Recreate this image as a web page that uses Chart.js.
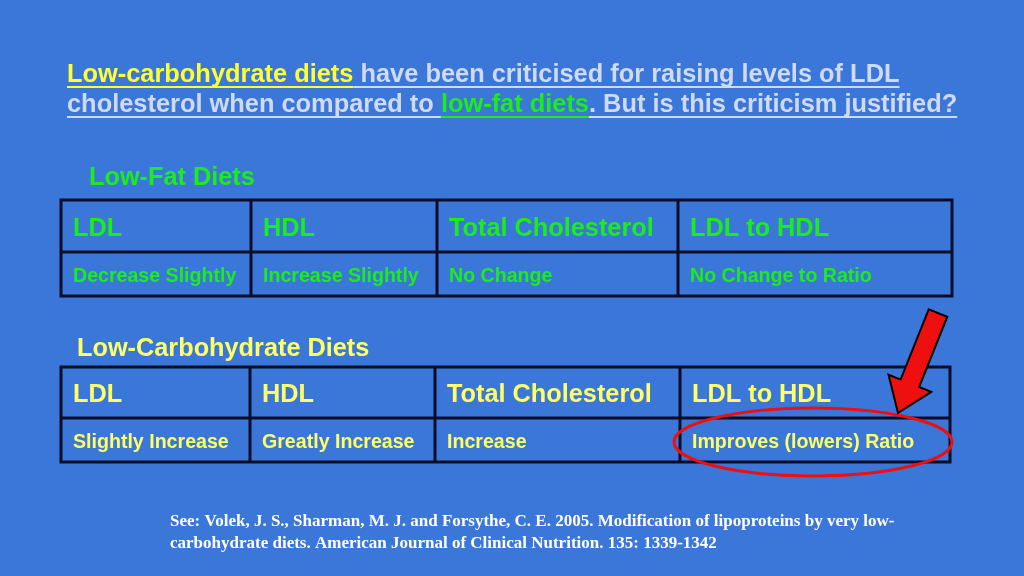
<!DOCTYPE html>
<html>
<head>
<meta charset="utf-8">
<script src="https://cdn.jsdelivr.net/npm/chart.js@4"></script>
<style>
  html, body { margin: 0; padding: 0; background: #3b77d9; }
  #slide { display: block; }
  .warm { position: absolute; left: -999px; top: 0; font-weight: bold; }
</style>
</head>
<body>
<span class="warm" style="font-family: 'Liberation Sans'">Aa</span>
<span class="warm" style="font-family: 'Liberation Serif'">Aa</span>
<canvas id="slide" width="1024" height="576"></canvas>
<script>
// /---------------Slide text and table data----------/
const titleParts = [
    { text: 'Low-carbohydrate diets', tone: 'yellow' },
    { text: ' have been criticised for raising levels of LDL', tone: 'pale' }
];
const titleParts2 = [
    { text: 'cholesterol when compared to ', tone: 'pale' },
    { text: 'low-fat diets', tone: 'green' },
    { text: '. But is this criticism justified?', tone: 'pale' }
];
const tableTitles = ['Low-Fat Diets', 'Low-Carbohydrate Diets'];
const columns = ['LDL', 'HDL', 'Total Cholesterol', 'LDL to HDL'];
const lowFatEffects = ['Decrease Slightly', 'Increase Slightly', 'No Change', 'No Change to Ratio'];
const lowCarbEffects = ['Slightly Increase', 'Greatly Increase', 'Increase', 'Improves (lowers) Ratio'];
const reference = [
    'See: Volek, J. S., Sharman, M. J. and Forsythe, C. E. 2005. Modification of lipoproteins by very low-',
    'carbohydrate diets. American Journal of Clinical Nutrition. 135: 1339-1342'
];

// /---------------Layout and colours----------/
const SANS = '"Liberation Sans", Arial, Helvetica, sans-serif';
const SERIF = '"Liberation Serif", "Times New Roman", serif';
const colours = {
    bg: '#3b77d9',
    pale: '#cfdaf6',
    yellow: '#ffff33',
    softYellow: '#ffff66',
    green: '#1cec1c',
    border: '#0b0c28',
    red: '#ee0f0f'
};
const tables = [
    { cols: [61, 251, 437, 678, 952], rows: [200, 252, 296], colour: colours.green, titleX: 89, titleY: 185, body: lowFatEffects },
    { cols: [61, 250, 435, 680, 950], rows: [367, 418, 462], colour: colours.softYellow, titleX: 77, titleY: 356, body: lowCarbEffects }
];

// /---------------Slide drawing plugin----------/
const slidePlugin = {
    id: 'slide',
    beforeDraw(chart) {
        const ctx = chart.ctx;
        ctx.save();
        ctx.fillStyle = colours.bg;
        ctx.fillRect(0, 0, chart.width, chart.height);
        ctx.restore();
    },
    afterDraw(chart) {
        const ctx = chart.ctx;
        const x = chart.scales.x;
        const y = chart.scales.y;
        const px = v => x.getPixelForValue(v);
        const py = v => y.getPixelForValue(v);

        ctx.save();
        ctx.textBaseline = 'alphabetic';

        // heading lines with underline
        function underlinedLine(parts, startX, baseY) {
            ctx.font = 'bold 25.4px ' + SANS;
            let cx = startX;
            parts.forEach(p => {
                const w = ctx.measureText(p.text).width;
                ctx.fillStyle = colours[p.tone];
                ctx.fillText(p.text, px(cx), py(baseY));
                ctx.fillRect(px(cx), py(baseY + 4), w, 2);
                cx += w;
            });
        }
        underlinedLine(titleParts, 67, 82);
        underlinedLine(titleParts2, 67, 112);

        // tables
        tables.forEach((t, i) => {
            ctx.font = 'bold 25.3px ' + SANS;
            ctx.fillStyle = t.colour;
            ctx.fillText(tableTitles[i], px(t.titleX), py(t.titleY));

            ctx.strokeStyle = colours.border;
            ctx.lineWidth = 3;
            ctx.strokeRect(px(t.cols[0]), py(t.rows[0]), px(t.cols[4]) - px(t.cols[0]), py(t.rows[2]) - py(t.rows[0]));
            ctx.beginPath();
            ctx.moveTo(px(t.cols[0]), py(t.rows[1]));
            ctx.lineTo(px(t.cols[4]), py(t.rows[1]));
            for (let c = 1; c < 4; c++) {
                ctx.moveTo(px(t.cols[c]), py(t.rows[0]));
                ctx.lineTo(px(t.cols[c]), py(t.rows[2]));
            }
            ctx.stroke();

            ctx.textBaseline = 'middle';
            columns.forEach((name, c) => {
                ctx.font = 'bold 25.3px ' + SANS;
                ctx.fillText(name, px(t.cols[c] + 12), py((t.rows[0] + t.rows[1]) / 2 + 3));
                ctx.font = 'bold 19.6px ' + SANS;
                ctx.fillText(t.body[c], px(t.cols[c] + 12), py((t.rows[1] + t.rows[2]) / 2 + 3));
            });
            ctx.textBaseline = 'alphabetic';
        });

        // highlight ellipse
        ctx.strokeStyle = colours.red;
        ctx.lineWidth = 3;
        ctx.beginPath();
        ctx.ellipse(px(813), py(442), 139, 34, 0, 0, Math.PI * 2);
        ctx.stroke();

        // arrow pointing at the ellipse
        const tail = [938, 313], tip = [898, 413];
        const dx = tip[0] - tail[0], dy = tip[1] - tail[1];
        const len = Math.hypot(dx, dy);
        const ux = dx / len, uy = dy / len, nx = -uy, ny = ux;
        const shaft = 10, head = 23, headLen = 32;
        const bx = tip[0] - ux * headLen, by = tip[1] - uy * headLen;
        const pts = [
            [tail[0] + nx * shaft, tail[1] + ny * shaft],
            [bx + nx * shaft, by + ny * shaft],
            [bx + nx * head, by + ny * head],
            tip,
            [bx - nx * head, by - ny * head],
            [bx - nx * shaft, by - ny * shaft],
            [tail[0] - nx * shaft, tail[1] - ny * shaft]
        ];
        ctx.beginPath();
        pts.forEach((p, k) => k ? ctx.lineTo(px(p[0]), py(p[1])) : ctx.moveTo(px(p[0]), py(p[1])));
        ctx.closePath();
        ctx.fillStyle = colours.red;
        ctx.fill();
        ctx.strokeStyle = '#000000';
        ctx.lineWidth = 2;
        ctx.stroke();

        // reference note
        ctx.fillStyle = '#ffffff';
        ctx.font = 'bold 17px ' + SERIF;
        reference.forEach((line, k) => ctx.fillText(line, px(170), py(526 + k * 22)));

        ctx.restore();
    }
};

// /============Slide chart==============/
function drawSlide() {
    new Chart(document.querySelector('#slide').getContext('2d'), {
        type: 'scatter',
        data: { datasets: [] },
        options: {
            responsive: false,
            animation: { duration: 0 },
            layout: { padding: 0 },
            scales: {
                x: { type: 'linear', min: 0, max: 1024, display: false },
                y: { type: 'linear', min: 0, max: 576, reverse: true, display: false }
            },
            plugins: {
                legend: { display: false },
                tooltip: { enabled: false }
            }
        },
        plugins: [slidePlugin]
    });
}

Promise.all([
    document.fonts.load('bold 25px "Liberation Sans"'),
    document.fonts.load('bold 17px "Liberation Serif"')
]).then(drawSlide, drawSlide);
</script>
</body>
</html>
